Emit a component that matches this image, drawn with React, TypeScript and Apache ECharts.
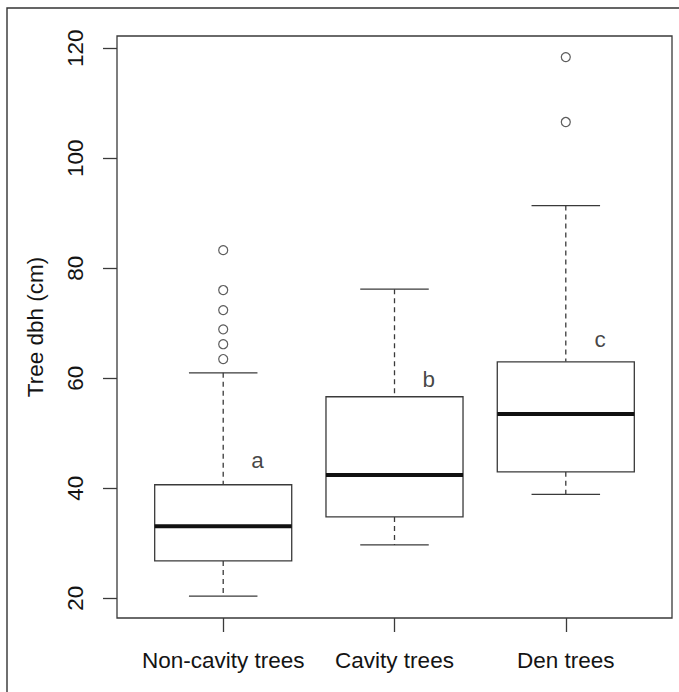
import React, { useEffect, useRef } from "react";
import * as echarts from "echarts";

const categories = ["Non-cavity trees", "Cavity trees", "Den trees"];
const categoryPositions = [1, 2, 3];
// [position, lower whisker, Q1, median, Q3, upper whisker]
const boxStats = [
  [1, 20.4, 26.8, 33.1, 40.65, 61.0],
  [2, 29.7, 34.8, 42.4, 56.65, 76.2],
  [3, 38.9, 43.0, 53.5, 63.0, 91.4],
];
const outliersNonCavity = [83.3, 76.05, 72.4, 68.9, 66.2, 63.5];
const outliersCavity: number[] = [];
const outliersDen = [118.4, 106.6];
const letterLabels = ["a", "b", "c"];
const letterValues = [45.1, 59.8, 67.1];
const yTicks = [20, 40, 60, 80, 100, 120];
const yTitle = "Tree dbh (cm)";

const FONT = "'Liberation Sans', Arial, Helvetica, sans-serif";
const LINE = "#3a3a3a";
const TEXT = "#141414";
const FS = 22.5;

export default function App() {
  const ref = useRef<HTMLDivElement>(null);
  useEffect(() => {
    if (!ref.current) return;
    const chart = echarts.init(ref.current, undefined, { renderer: "svg" });
    const outlierData: number[][] = [];
    [outliersNonCavity, outliersCavity, outliersDen].forEach((arr, i) =>
      arr.forEach((v) => outlierData.push([categoryPositions[i], v]))
    );
    const letterData = letterLabels.map((l, i) => [categoryPositions[i] + 0.2, letterValues[i], l]);

    chart.setOption({
      animation: false,
      backgroundColor: "#fff",
      textStyle: { fontFamily: FONT },
      graphic: [
        {
          type: "polyline",
          shape: { points: [[7, 692], [7, 8], [679, 8]] },
          style: { fill: "none", stroke: "#333", lineWidth: 1.4 },
          silent: true,
          z: 100,
        },
      ],
      grid: {
        left: 117,
        right: 7,
        top: 36,
        bottom: 74,
        show: true,
        borderColor: LINE,
        borderWidth: 1.3,
        backgroundColor: "#fff",
        containLabel: false,
      },
      xAxis: {
        type: "value",
        min: 0.38,
        max: 3.62,
        axisLine: { show: false },
        splitLine: { show: false },
        axisTick: {
          show: true,
          length: 14,
          customValues: categoryPositions,
          lineStyle: { color: LINE, width: 1.3 },
        },
        axisLabel: {
          customValues: categoryPositions,
          formatter: (v: number) => categories[Math.round(v) - 1] ?? "",
          fontSize: FS,
          color: TEXT,
          fontFamily: FONT,
          margin: 31,
        },
      },
      yAxis: {
        type: "value",
        min: 16.42,
        max: 122.24,
        axisLine: { show: false },
        splitLine: { show: false },
        axisTick: {
          show: true,
          length: 14,
          customValues: yTicks,
          lineStyle: { color: LINE, width: 1.3 },
        },
        axisLabel: {
          customValues: yTicks,
          rotate: 90,
          fontSize: FS,
          color: TEXT,
          fontFamily: FONT,
          margin: 30,
        },
        name: yTitle,
        nameLocation: "middle",
        nameRotate: 90,
        nameGap: 70,
        nameTextStyle: { fontSize: FS, color: TEXT, fontFamily: FONT },
      },
      series: [
        {
          type: "custom",
          encode: { x: 0, y: [1, 2, 3, 4, 5] },
          data: boxStats,
          renderItem: (params: any, api: any) => {
            const x = api.value(0);
            const lo = api.coord([x, api.value(1)]);
            const q1 = api.coord([x, api.value(2)]);
            const med = api.coord([x, api.value(3)]);
            const q3 = api.coord([x, api.value(4)]);
            const hi = api.coord([x, api.value(5)]);
            const cx = lo[0];
            const half = api.size([0.4, 0])[0];
            const staple = half / 2;
            const dashed = { stroke: LINE, lineWidth: 1.3, lineDash: [5, 4] };
            const solid = { stroke: LINE, lineWidth: 1.3 };
            return {
              type: "group",
              children: [
                { type: "line", shape: { x1: cx, y1: hi[1], x2: cx, y2: q3[1] }, style: dashed },
                { type: "line", shape: { x1: cx, y1: q1[1], x2: cx, y2: lo[1] }, style: dashed },
                { type: "line", shape: { x1: cx - staple, y1: hi[1], x2: cx + staple, y2: hi[1] }, style: solid },
                { type: "line", shape: { x1: cx - staple, y1: lo[1], x2: cx + staple, y2: lo[1] }, style: solid },
                {
                  type: "rect",
                  shape: { x: cx - half, y: q3[1], width: 2 * half, height: q1[1] - q3[1] },
                  style: { fill: "#fff", stroke: LINE, lineWidth: 1.3 },
                },
                {
                  type: "line",
                  shape: { x1: cx - half, y1: med[1], x2: cx + half, y2: med[1] },
                  style: { stroke: "#111", lineWidth: 4 },
                },
              ],
            };
          },
        },
        {
          type: "scatter",
          data: outlierData,
          symbol: "circle",
          symbolSize: 9,
          itemStyle: { color: "rgba(0,0,0,0)", borderColor: "#333", borderWidth: 1.2 },
        },
        {
          type: "scatter",
          data: letterData,
          symbolSize: 0,
          itemStyle: { color: "rgba(0,0,0,0)" },
          label: {
            show: true,
            position: "inside",
            formatter: (p: any) => p.data[2],
            fontSize: FS,
            color: TEXT,
            fontFamily: FONT,
          },
        },
      ],
    });
    return () => chart.dispose();
  }, []);
  return (
    <div
      ref={ref}
      style={{ position: "fixed", left: 0, top: 0, width: 679, height: 692, background: "#fff", overflow: "hidden" }}
    />
  );
}
